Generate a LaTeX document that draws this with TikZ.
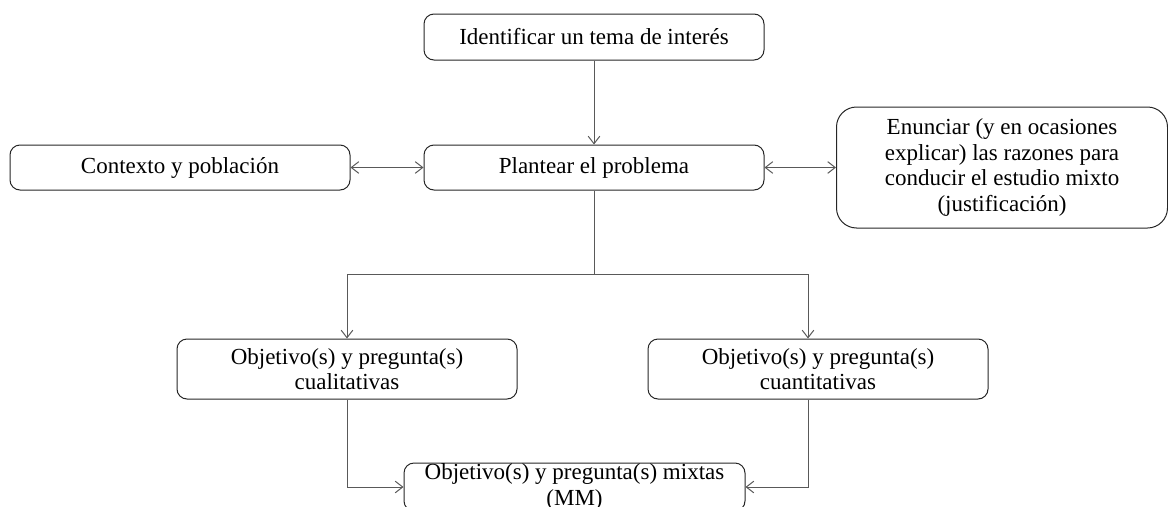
\documentclass[tikz,border=0pt]{standalone}
\usepackage{fontspec}
\setmainfont{Liberation Serif}
\usetikzlibrary{arrows.meta}
\begin{document}
\begin{tikzpicture}[x=0.6pt,y=-0.6pt,
  box/.style={draw=black!85,line width=0.6pt,rounded corners=6pt,align=center,
    inner sep=0pt,font=\fontsize{13.8}{15.4}\selectfont},
  conn/.style={draw=black!65,line width=0.6pt,-{Straight Barb[length=4.5pt,width=7pt]}},
  conn2/.style={draw=black!65,line width=0.6pt,{Straight Barb[length=4.5pt,width=7pt]}-{Straight Barb[length=4.5pt,width=7pt]}}]
\useasboundingbox (0,0) rectangle (1168,506);
\clip (0,0) rectangle (1168,506);
\node[box,minimum width=204pt,minimum height=27.6pt] (top) at (594,37) {Identificar un tema de interés};
\node[box,minimum width=204pt,minimum height=27pt] (plan) at (594,167.5) {Plantear el problema};
\node[box,minimum width=204pt,minimum height=27pt] (ctx) at (180,167.5) {Contexto y población};
\node[box,minimum width=198.6pt,minimum height=72.6pt,rounded corners=12pt] (enun) at (1002,167.5) {Enunciar (y en ocasiones\\explicar) las razones para\\conducir el estudio mixto\\(justificación)};
\node[box,minimum width=204pt,minimum height=36pt] (cual) at (347,369) {Objetivo(s) y pregunta(s)\\cualitativas};
\node[box,minimum width=204pt,minimum height=36pt] (cuan) at (818,369) {Objetivo(s) y pregunta(s)\\cuantitativas};
\node[box,minimum width=204.6pt,minimum height=28.8pt] (mix) at (574.5,487) {Objetivo(s) y pregunta(s) mixtas\\(MM)};
\coordinate (j) at (594,274);
\draw[conn] (top) -- (plan);
\draw[conn2] (ctx) -- (plan);
\draw[conn2] (plan) -- (enun);
\draw[draw=black!65,line width=0.6pt] (plan.south) -- (j);
\draw[conn] (j) -| (cual.north);
\draw[conn] (j) -| ([xshift=-6pt]cuan.north);
\draw[conn] (cual.south) |- (mix.west);
\draw[conn] ([xshift=-6pt]cuan.south) |- (mix.east);
\end{tikzpicture}
\end{document}
